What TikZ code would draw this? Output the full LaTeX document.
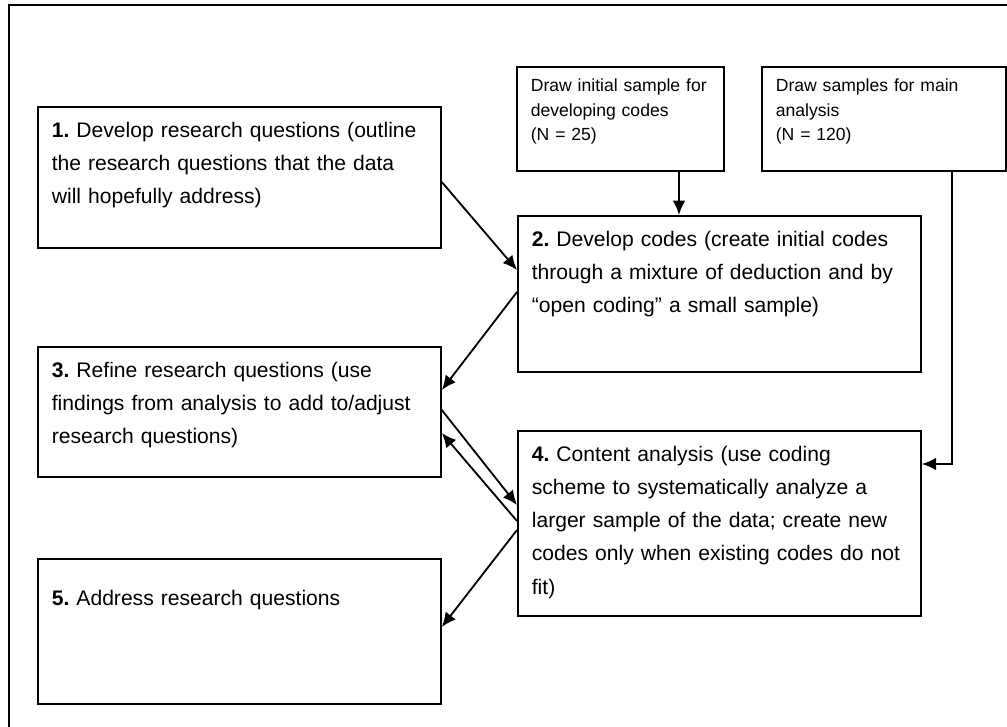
\documentclass[tikz,border=0pt]{standalone}
\usepackage{fontspec}
\setmainfont{Liberation Sans}
\usetikzlibrary{arrows.meta}
\frenchspacing
\begin{document}
\begin{tikzpicture}[x=0.025cm,y=-0.025cm,
    stage/.style={draw=black,line width=1.2pt,anchor=north west,align=left,text width=9.375cm,
      inner xsep=0.35cm,inner ysep=0.25cm,text height=0.525cm,font=\fontsize{15}{23.5}\selectfont},
    sample/.style={draw=black,line width=1.2pt,anchor=north west,align=left,
      inner xsep=0.35cm,inner ysep=0.2cm,text height=0.425cm,text depth=1.775cm,font=\fontsize{12.5}{17.4}\selectfont},
    flow/.style={line width=1.3pt,-{Latex[length=0.36cm,width=0.32cm]}}]
    \useasboundingbox (0,0) rectangle (1007,727);
    % outer frame
    \draw[line width=1.5pt] (9,727) -- (9,5) -- (1007,5);
    % sampling boxes
    \node[sample,text width=4.475cm] (initial) at (516,66) {Draw initial sample for\\ developing codes\\ (N = 25)};
    \node[sample,text width=5.4cm] (main) at (761,66) {Draw samples for main\\ analysis\\ (N = 120)};
    % steps
    \node[stage,text depth=2.5cm] (questions) at (37,106) {\textbf{1.} Develop research questions (outline\\ the research questions that the data\\ will hopefully address)};
    \node[stage,text depth=2.875cm] (codes) at (517,215) {\textbf{2.} Develop codes (create initial codes\\ through a mixture of deduction and by\\ ``open coding'' a small sample)};
    \node[stage,text depth=2.225cm] (refine) at (37,346) {\textbf{3.} Refine research questions (use\\ findings from analysis to add to/adjust\\ research questions)};
    \node[stage,text depth=3.6cm] (content) at (517,430) {\textbf{4.} Content analysis (use coding\\ scheme to systematically analyze a\\ larger sample of the data; create new\\ codes only when existing codes do not\\ fit)};
    \node[stage,text height=0.925cm,text depth=2.2cm] (address) at (37,558) {\textbf{5.} Address research questions};
    % connectors
    \draw[flow] (questions.east |- 0,182) -- (codes.west |- 0,270);
    \draw[flow] (codes.west |- 0,292) -- (refine.east |- 0,390);
    \draw[flow] (refine.east |- 0,410) -- (content.west |- 0,505);
    \draw[flow] (content.west |- 0,521) -- (refine.east |- 0,433);
    \draw[flow] (content.west |- 0,530) -- (address.east |- 0,627);
    \draw[flow] (679,0 |- initial.south) -- (679,0 |- codes.north);
    \draw[flow] (952,0 |- main.south) |- (content.east |- 0,464);
\end{tikzpicture}
\end{document}
